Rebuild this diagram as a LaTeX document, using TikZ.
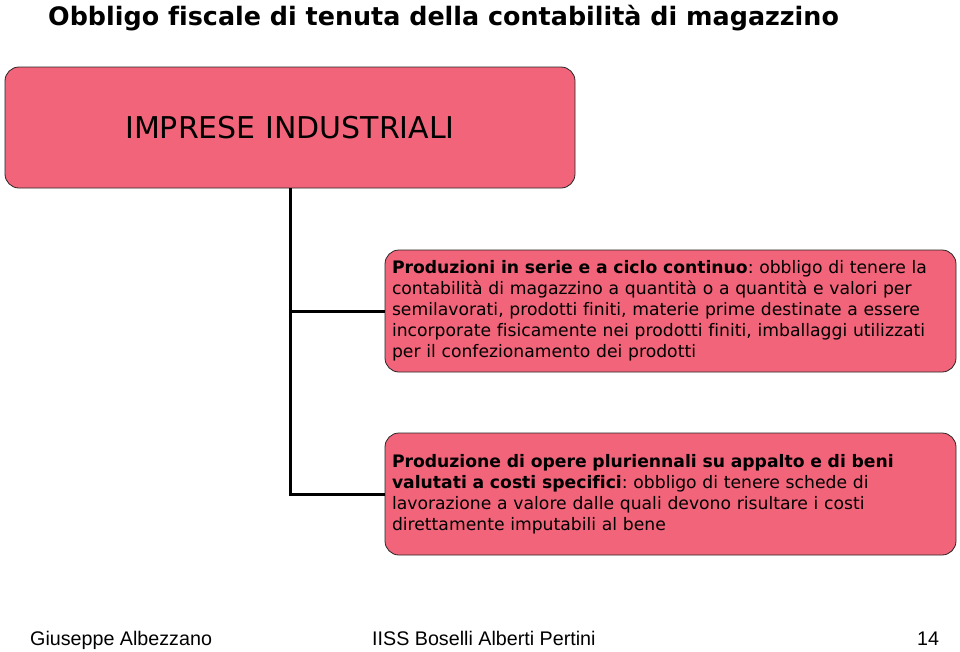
\documentclass[tikz,border=0pt]{standalone}
\usepackage{fontspec}
\setmainfont{DejaVu Sans}[Ligatures=NoCommon]
\newfontfamily\footfont{Liberation Sans}
\usetikzlibrary{positioning}
\definecolor{boxpink}{RGB}{242,100,122}
\frenchspacing
\tikzset{
  block/.style={draw=black!85, line width=0.8pt, fill=boxpink, rounded corners=14pt},
  textblock/.style={block, inner xsep=7pt, text width=557pt, minimum height=122pt, align=left,
    font=\fontsize{17.2}{21}\selectfont},
  branch/.style={line width=3pt},
  foot/.style={anchor=base west, inner sep=0pt, font=\footfont\fontsize{19.7}{22}\selectfont},
}

\begin{document}
\begin{tikzpicture}[x=1pt,y=-1pt]
\useasboundingbox (0,0) rectangle (960,651);
%%% title %%%
\node[anchor=base west, inner sep=0pt, font=\bfseries\fontsize{25.4}{30}\selectfont] (title) at (48,25)
  {Obbligo fiscale di tenuta della contabilità di magazzino};

%%% boxes %%%
\node[block, minimum width=570pt, minimum height=121pt, font=\fontsize{30}{34}\selectfont]
  (imprese) at (290,127.5) {IMPRESE INDUSTRIALI};

\node[textblock] (serie) at (670.5,311)
  {\textbf{Produzioni in serie e a ciclo continuo}: obbligo di tenere la\\
   contabilità di magazzino a quantità o a quantità e valori per\\
   semilavorati, prodotti finiti, materie prime destinate a essere\\
   incorporate fisicamente nei prodotti finiti, imballaggi utilizzati\\
   per il confezionamento dei prodotti};

\node[textblock] (appalto) at (670.5,494)
  {\textbf{Produzione di opere pluriennali su appalto e di beni}\\
   \textbf{valutati a costi specifici}: obbligo di tenere schede di\\
   lavorazione a valore dalle quali devono risultare i costi\\
   direttamente imputabili al bene};

%%
\draw[branch] (imprese.south) |- (serie.west);
\draw[branch] (imprese.south) |- (appalto.west);

%%% footer %%%
\node[foot] (autore) at (30,645.5) {Giuseppe Albezzano};
\node[foot] (scuola) at (372,645.5) {IISS Boselli Alberti Pertini};
\node[foot] (pagina) at (917,645.5) {14};

\end{tikzpicture}
\end{document}
